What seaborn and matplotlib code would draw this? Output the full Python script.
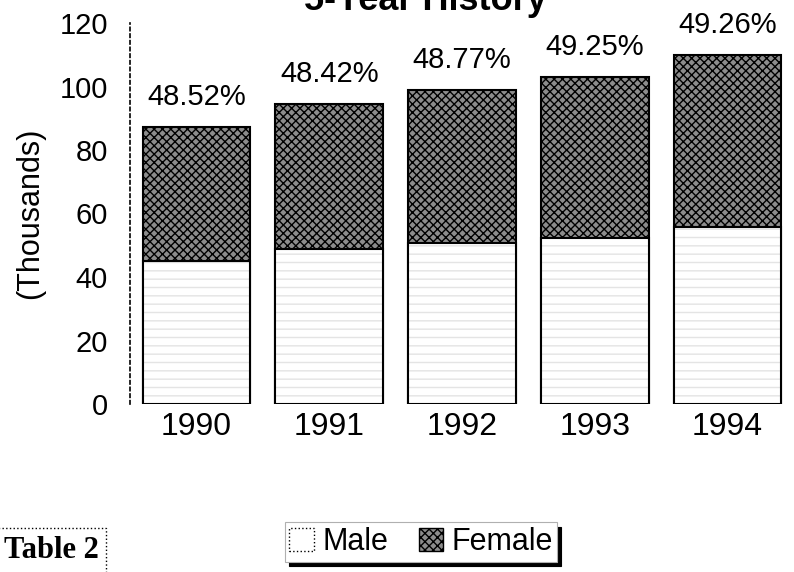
import pandas as pd
import matplotlib
matplotlib.use("Agg")
import matplotlib.pyplot as plt
import seaborn as sns
from matplotlib.patches import Patch

# =====================================================
# DATA (thousands)
# =====================================================
years = ["1990", "1991", "1992", "1993", "1994"]
male = [44.9, 48.7, 50.6, 52.3, 55.8]
female = [42.4, 45.8, 48.2, 50.7, 54.2]
pct_labels = ["48.52%", "48.42%", "48.77%", "49.25%", "49.26%"]

df = pd.DataFrame({"Year": years, "Male": male, "Female": female})
df["Total"] = df["Male"] + df["Female"]

# =====================================================
# STYLE
# =====================================================
sns.set_theme(style="white")
plt.rcParams["font.family"] = ["Liberation Sans", "DejaVu Sans"]
plt.rcParams["text.color"] = "black"
plt.rcParams["hatch.linewidth"] = 1.0

W, H = 794, 572
fig = plt.figure(figsize=(W / 100, H / 100), dpi=100)
ax = fig.add_axes([130 / W, 1 - 404 / H, 664 / W, 381 / H])

FEMALE_FACE = "#8c8c8c"
FEMALE_HATCH = "xxxx"

# female stacked on male: totals first, then male over them
sns.barplot(data=df, x="Year", y="Total", color=FEMALE_FACE, hatch=FEMALE_HATCH,
            edgecolor="black", linewidth=1.5, width=0.81, saturation=1, ax=ax)
# faint scan-like texture in the male part
sns.barplot(data=df, x="Year", y="Male", color="white", hatch="--",
            edgecolor="#e4e4e4", linewidth=0, width=0.81, saturation=1, ax=ax)
# male outline
sns.barplot(data=df, x="Year", y="Male", color="black", fill=False,
            linewidth=1.5, width=0.81, ax=ax)

for i, (tot, lab) in enumerate(zip(df["Total"], pct_labels)):
    ax.annotate(lab, (i, tot), xytext=(0, 22), textcoords="offset pixels",
                ha="center", va="baseline", fontsize=21, color="black")

ax.set_ylim(0, 120)
ax.set_xlim(-0.5, 4.5)
ax.set_yticks([0, 20, 40, 60, 80, 100, 120])
ax.tick_params(axis="y", length=0, pad=16, labelsize=21, colors="black")
ax.tick_params(axis="x", length=0, pad=6, labelsize=23, colors="black")
ax.set_xlabel("")
ax.set_ylabel("(Thousands)", fontsize=22, color="black")
ax.yaxis.set_label_coords(-0.128, 0.5)

for side in ["top", "right", "bottom"]:
    ax.spines[side].set_visible(False)
ax.spines["left"].set_linestyle((0, (2, 2)))
ax.spines["left"].set_color("black")
ax.spines["left"].set_linewidth(1.2)

# title, partly cut off at the top of the page
fig.text(425 / W, 1 - 10 / H, "5-Year History", ha="center", va="baseline",
         fontsize=26, fontweight="bold", color="black")

# legend
handles = [Patch(facecolor="white", edgecolor="black", linestyle=":"),
           Patch(facecolor=FEMALE_FACE, edgecolor="black", hatch=FEMALE_HATCH)]
leg = fig.legend(handles, ["Male", "Female"], ncol=2, loc="center",
                 bbox_to_anchor=(421 / W, 1 - 542 / H), fontsize=22,
                 frameon=True, fancybox=False, edgecolor="#b0b0b0",
                 shadow={"ox": 3, "oy": -3, "color": "black", "alpha": 1},
                 handlelength=0.8, handleheight=0.8, handletextpad=0.27,
                 columnspacing=1.0, borderpad=0.15)
leg.get_frame().set_linewidth(0.8)
for t in leg.get_texts():
    t.set_color("black")

# "Table 2" tag, bottom left
fig.text(4 / W, 1 - 558 / H, "Table 2", ha="left", va="baseline",
         fontsize=22, fontweight="bold", color="black",
         family=["Liberation Serif", "DejaVu Serif"],
         bbox=dict(boxstyle="square,pad=0.25", facecolor="white",
                   edgecolor="black", linestyle=":", linewidth=1.0))

fig.savefig("out.png", dpi=100)
